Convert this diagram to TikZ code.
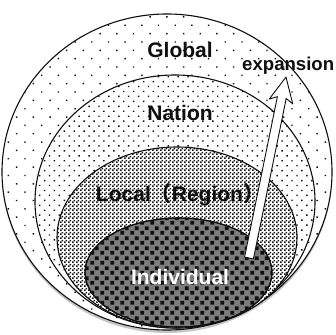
\documentclass[tikz,border=0pt]{standalone}
\usepackage{fontspec}
\setmainfont{Liberation Sans}
\newfontfamily\cjkfont{Noto Sans CJK JP}
\usetikzlibrary{calc,patterns.meta,shadows}
\definecolor{ink}{RGB}{15,15,15}
\definecolor{stone}{RGB}{125,125,125}

\tikzdeclarepattern{name=blocks,type=uncolored,bounding box={(0,0) and (10pt,10pt)},
  tile size={(10pt,10pt)},code={\fill (.3pt,.3pt) rectangle (4.5pt,4.5pt);
    \fill (5.3pt,5.3pt) rectangle (9.5pt,9.5pt);}}
\tikzdeclarepattern{name=checker,type=uncolored,bounding box={(0,0) and (4pt,4pt)},
  tile size={(4pt,4pt)},code={\fill (0,0) rectangle (1.9pt,1.9pt);
    \fill (2pt,2pt) rectangle (3.9pt,3.9pt);}}

\begin{document}
\begin{tikzpicture}[x=1pt,y=1pt,font=\bfseries\fontsize{21}{23}\selectfont,
  ring/.style={draw=ink,line width=1.1pt},
  lbl/.style={text=ink,inner sep=1pt}]
\useasboundingbox (0,0) rectangle (336,-334);
% levels, outer to inner
\filldraw[ring,fill=white,drop shadow={shadow xshift=0pt,shadow yshift=-3pt,opacity=.45}]
  (167,-172) ellipse [x radius=165,y radius=158];
\fill[pattern={Dots[distance=11.8pt,radius=1pt,angle=45]},pattern color=ink] (167,-172) ellipse [x radius=165,y radius=158];
\filldraw[ring,fill=white] (175,-201.5) ellipse [x radius=140,y radius=126.5];
\fill[pattern={Dots[distance=7pt,radius=1pt,angle=45]},pattern color=ink] (175,-201.5) ellipse [x radius=140,y radius=126.5];
\filldraw[ring,fill=white] (177,-237.5) ellipse [x radius=120,y radius=90.5];
\fill[pattern=checker,pattern color=ink] (177,-237.5) ellipse [x radius=120,y radius=90.5];
\filldraw[ring,fill=stone] (178.5,-272.5) ellipse [x radius=93.5,y radius=54.5];
\fill[pattern=blocks,pattern color=ink] (178.5,-272.5) ellipse [x radius=93.5,y radius=54.5];
\draw[ring] (178.5,-272.5) ellipse [x radius=93.5,y radius=54.5];
% arrow
\coordinate (tail) at (249,-258);
\coordinate (tip) at (286,-77);
\coordinate (hbase) at ($(tip)!21pt!(tail)$);
\coordinate (hback) at ($(tip)!25pt!(tail)$);
\filldraw[fill=white,draw=ink,line width=.9pt,line join=round]
  ($(tail)!4.5pt!90:(tip)$) -- ($(hbase)!4.5pt!90:(tip)$) -- ($(hback)!12pt!90:(tip)$)
  -- (tip) -- ($(hback)!12pt!-90:(tip)$) -- ($(hbase)!4.5pt!-90:(tip)$)
  -- ($(tail)!4.5pt!-90:(tip)$) -- cycle;
\node[lbl] (global) at (180,-50) {Global};
\node[lbl] (nation) at (180,-113) {Nation};
\node[lbl] (local) at (180,-195) {Local{\cjkfont （}Region{\cjkfont ）}};
\node[lbl,text=white] (indiv) at (180,-277) {Individual};
\node[lbl,anchor=west,font=\bfseries\fontsize{18.6}{20}\selectfont] (expand) at (241,-66) {expansion};
\end{tikzpicture}
\end{document}
